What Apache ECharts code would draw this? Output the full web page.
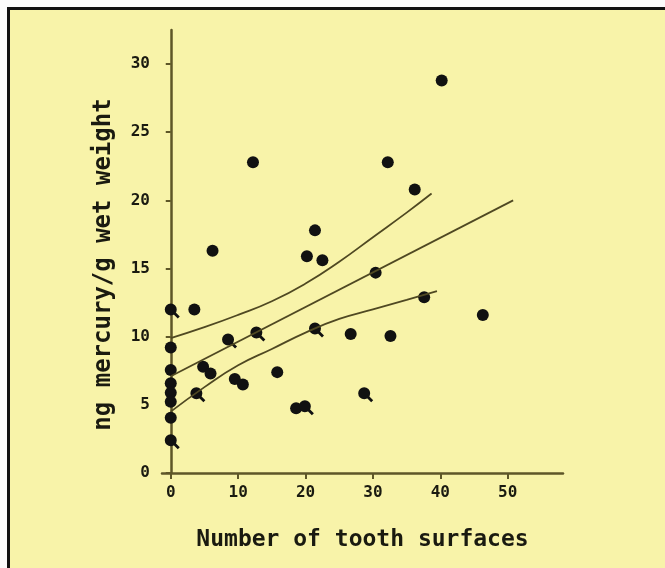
<!DOCTYPE html>
<html>
<head>
<meta charset="utf-8">
<script src="https://cdn.jsdelivr.net/npm/echarts@6/dist/echarts.min.js"></script>
<style>
  html, body { margin: 0; padding: 0; background: #fbfbfb; }
  #frame {
    position: absolute; left: 7px; top: 7px; width: 665px; height: 568px;
    border-left: 3px solid #111; border-top: 3px solid #111;
    background: #f8f3a9;
  }
  #chart { position: absolute; left: 0; top: 0; width: 665px; height: 568px; }
</style>
</head>
<body>
<div id="frame"></div>
<div id="chart"></div>
<script>
// plain dots: [tooth surfaces, ng mercury/g]
const dots = [
  [0, 9.2], [0, 7.56], [0, 6.58], [0, 5.89], [0, 5.23], [0, 4.06],
  [3.5, 12.0], [6.2, 16.3], [4.8, 7.8], [5.9, 7.3], [9.5, 6.9], [10.7, 6.5],
  [15.8, 7.4], [12.2, 22.8], [40.2, 28.8], [32.2, 22.8], [36.2, 20.8],
  [21.4, 17.8], [20.2, 15.9], [22.5, 15.6], [30.4, 14.7], [37.6, 12.9],
  [46.3, 11.6], [26.7, 10.2], [32.6, 10.05], [18.6, 4.75]
];
// dots drawn with a small tail
const tailDots = [
  [0, 12.0], [0, 2.4], [3.8, 5.85], [8.5, 9.8], [12.7, 10.3],
  [21.4, 10.6], [19.9, 4.9], [28.7, 5.85]
];
// regression line and confidence band
const fitLine = [[0, 7.1], [50.8, 20.0]];
const upperBand = [[0, 9.9], [5, 10.7], [10, 11.6], [15, 12.6], [20, 13.9], [25, 15.5], [30, 17.3], [35, 19.1], [38.7, 20.5]];
const lowerBand = [[0, 4.5], [5, 6.3], [10, 7.9], [15, 9.1], [20, 10.3], [25, 11.3], [30, 12.0], [35, 12.7], [39.5, 13.35]];

const xTicks = [0, 10, 20, 30, 40, 50];
const yTicks = [0, 5, 10, 15, 20, 25, 30];

const axisColor = '#5e5628';
const font = 'DejaVu Sans Mono';
const tailSymbol = 'path://M0,6 A6,6 0 1,1 12,6 A6,6 0 1,1 0,6 Z M10.5,8.5 L15,13 L13,15 L8.5,10.5 Z';

const chart = echarts.init(document.getElementById('chart'));
const lineStyle = { color: '#4f4822', width: 1.8 };
chart.setOption({
  backgroundColor: 'transparent',
  animation: false,
  grid: { left: 162, right: 102, top: 30, bottom: 95 },
  xAxis: {
    type: 'value', min: -1.3, max: 58.2,
    name: 'Number of tooth surfaces', nameLocation: 'middle', nameGap: 56,
    nameTextStyle: { fontFamily: font, fontWeight: 'bold', fontSize: 23, color: '#1a1a10' },
    axisLine: { lineStyle: { color: axisColor, width: 2.5 } },
    axisTick: { length: 6, lineStyle: { color: axisColor, width: 2 }, customValues: xTicks },
    axisLabel: { customValues: xTicks, fontFamily: font, fontWeight: 'bold', fontSize: 16, color: '#1a1a10', margin: 12 },
    splitLine: { show: false }
  },
  yAxis: {
    type: 'value', min: 0, max: 32.5,
    name: 'ng mercury/g wet weight', nameLocation: 'middle', nameGap: 46,
    nameTextStyle: { fontFamily: font, fontWeight: 'bold', fontSize: 24, color: '#1a1a10', padding: [0, 26, 0, 0] },
    axisLine: { onZero: true, lineStyle: { color: axisColor, width: 2.5 } },
    axisTick: { length: 5, lineStyle: { color: axisColor, width: 2 }, customValues: yTicks },
    axisLabel: { customValues: yTicks, fontFamily: font, fontWeight: 'bold', fontSize: 16, color: '#1a1a10', margin: 12 },
    splitLine: { show: false }
  },
  series: [
    { type: 'line', data: upperBand, smooth: true, symbol: 'none', lineStyle },
    { type: 'line', data: fitLine, symbol: 'none', lineStyle },
    { type: 'line', data: lowerBand, smooth: true, symbol: 'none', lineStyle },
    { type: 'scatter', data: dots, symbol: 'circle', symbolSize: 12, itemStyle: { color: '#111', opacity: 1 } },
    { type: 'scatter', data: tailDots, symbol: tailSymbol, symbolSize: 15, symbolKeepAspect: true,
      symbolOffset: [1.5, 1.5], itemStyle: { color: '#111', opacity: 1 } }
  ]
});
</script>
</body>
</html>
